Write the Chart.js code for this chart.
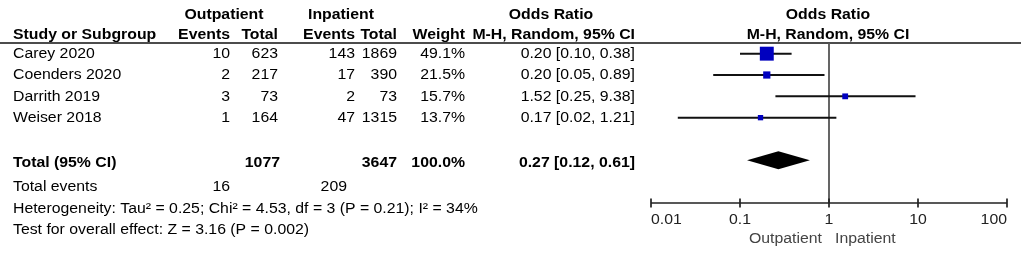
<!DOCTYPE html>
<html>
<head>
<meta charset="utf-8">
<script src="https://cdn.jsdelivr.net/npm/chart.js@4.4.1/dist/chart.umd.min.js"></script>
<style>
  html, body { margin: 0; padding: 0; background: #ffffff; }
  #wrap { width: 1021px; height: 257px; position: relative; }
</style>
</head>
<body>
<div id="wrap"><canvas id="c" width="1021" height="257"></canvas></div>
<script>
// ---- data ----
const studies = ["Carey 2020", "Coenders 2020", "Darrith 2019", "Weiser 2018"];
const outEvents = [10, 2, 3, 1];
const outTotal = [623, 217, 73, 164];
const inEvents = [143, 17, 2, 47];
const inTotal = [1869, 390, 73, 1315];
const weights = [49.1, 21.5, 15.7, 13.7];
const oddsRatio = [0.20, 0.20, 1.52, 0.17];
const ciLow = [0.10, 0.05, 0.25, 0.02];
const ciHigh = [0.38, 0.89, 9.38, 1.21];
const pooledOR = [0.27];
const pooledLow = [0.12];
const pooledHigh = [0.61];
const totalsOut = [1077];
const totalsIn = [3647];
const totalEventsOut = [16];
const totalEventsIn = [209];
const tickValues = [0.01, 0.1, 1, 10, 100];
const tickLabels = ["0.01", "0.1", "1", "10", "100"];
const heterogeneityText = "Heterogeneity: Tau\u00B2 = 0.25; Chi\u00B2 = 4.53, df = 3 (P = 0.21); I\u00B2 = 34%";
const overallText = "Test for overall effect: Z = 3.16 (P = 0.002)";
const favoursLeft = "Outpatient";
const favoursRight = "Inpatient";
const totalRow = 5;

// ---- helpers ----
const SX = 1.13;
const FONT = '"Liberation Sans", Arial, Helvetica, sans-serif';
function txt(ctx, s, x, y, align, bold, color, size) {
  ctx.save();
  ctx.font = (bold ? 'bold ' : '') + (size || 14) + 'px ' + FONT;
  ctx.fillStyle = color || '#000';
  ctx.textBaseline = 'middle';
  ctx.textAlign = 'left';
  const w = ctx.measureText(s).width * SX;
  const left = align === 'left' ? x : (align === 'right' ? x - w : x - w / 2);
  ctx.translate(left, y);
  ctx.scale(SX, 1);
  ctx.fillText(s, 0, 0);
  ctx.restore();
}
const f2 = v => v.toFixed(2);
const orText = (o, l, h) => f2(o) + ' [' + f2(l) + ', ' + f2(h) + ']';

const forestPlugin = {
  id: 'forest',
  beforeDatasetsDraw(chart) {
    const ctx = chart.ctx, xs = chart.scales.x, ca = chart.chartArea;
    ctx.save();
    ctx.strokeStyle = '#111';
    ctx.lineWidth = 1.5;
    ctx.beginPath(); ctx.moveTo(0, ca.top); ctx.lineTo(chart.width, ca.top); ctx.stroke();
    const x1 = xs.getPixelForValue(1);
    ctx.strokeStyle = '#555';
    ctx.lineWidth = 1.8;
    ctx.beginPath(); ctx.moveTo(x1, ca.top); ctx.lineTo(x1, ca.bottom); ctx.stroke();
    ctx.restore();
  },
  afterDatasetsDraw(chart) {
    const ctx = chart.ctx, xs = chart.scales.x, ys = chart.scales.y, ca = chart.chartArea;
    const yT = ys.getPixelForValue(totalRow);
    ctx.save();
    ctx.fillStyle = '#000';
    ctx.beginPath();
    ctx.moveTo(xs.getPixelForValue(pooledLow[0]), yT);
    ctx.lineTo(xs.getPixelForValue(pooledOR[0]), yT - 9);
    ctx.lineTo(xs.getPixelForValue(pooledHigh[0]), yT);
    ctx.lineTo(xs.getPixelForValue(pooledOR[0]), yT + 9);
    ctx.closePath();
    ctx.fill();
    const ay = ca.bottom;
    ctx.strokeStyle = '#222';
    ctx.lineWidth = 1.7;
    ctx.beginPath();
    ctx.moveTo(xs.getPixelForValue(tickValues[0]), ay);
    ctx.lineTo(xs.getPixelForValue(tickValues[tickValues.length - 1]), ay);
    tickValues.forEach(v => {
      const px = xs.getPixelForValue(v);
      ctx.moveTo(px, ay - 4.5); ctx.lineTo(px, ay + 4.5);
    });
    ctx.stroke();
    ctx.restore();
    tickValues.forEach((v, i) => {
      const px = xs.getPixelForValue(v);
      const al = i === 0 ? 'left' : (i === tickValues.length - 1 ? 'right' : 'center');
      txt(ctx, tickLabels[i], px, ay + 17, al, false, '#222');
    });
    const x1 = xs.getPixelForValue(1);
    txt(ctx, favoursLeft, x1 - 7, ay + 36, 'right', false, '#444');
    txt(ctx, favoursRight, x1 + 6, ay + 36, 'left', false, '#444');

    const h1 = 15, h2 = 35;
    txt(ctx, 'Outpatient', 224, h1, 'center', true);
    txt(ctx, 'Inpatient', 341, h1, 'center', true);
    txt(ctx, 'Odds Ratio', 551, h1, 'center', true);
    txt(ctx, 'Odds Ratio', 828, h1, 'center', true);
    txt(ctx, 'Study or Subgroup', 13, h2, 'left', true);
    txt(ctx, 'Events', 230, h2, 'right', true);
    txt(ctx, 'Total', 278, h2, 'right', true);
    txt(ctx, 'Events', 355, h2, 'right', true);
    txt(ctx, 'Total', 397, h2, 'right', true);
    txt(ctx, 'Weight', 465, h2, 'right', true);
    txt(ctx, 'M-H, Random, 95% CI', 635, h2, 'right', true);
    txt(ctx, 'M-H, Random, 95% CI', 828, h2, 'center', true);

    studies.forEach((s, i) => {
      const y = ys.getPixelForValue(i) + 0.5;
      txt(ctx, s, 13, y, 'left');
      txt(ctx, String(outEvents[i]), 230, y, 'right');
      txt(ctx, String(outTotal[i]), 278, y, 'right');
      txt(ctx, String(inEvents[i]), 355, y, 'right');
      txt(ctx, String(inTotal[i]), 397, y, 'right');
      txt(ctx, weights[i].toFixed(1) + '%', 465, y, 'right');
      txt(ctx, orText(oddsRatio[i], ciLow[i], ciHigh[i]), 635, y, 'right');
    });

    const ty = yT + 2.5;
    const wSum = weights.reduce((a, b) => a + b, 0);
    txt(ctx, 'Total (95% CI)', 13, ty, 'left', true);
    txt(ctx, String(totalsOut[0]), 280, ty, 'right', true);
    txt(ctx, String(totalsIn[0]), 397, ty, 'right', true);
    txt(ctx, wSum.toFixed(1) + '%', 465, ty, 'right', true);
    txt(ctx, orText(pooledOR[0], pooledLow[0], pooledHigh[0]), 635, ty, 'right', true);
    txt(ctx, 'Total events', 13, 187, 'left');
    txt(ctx, String(totalEventsOut[0]), 230, 187, 'right');
    txt(ctx, String(totalEventsIn[0]), 347, 187, 'right');
    txt(ctx, heterogeneityText, 13, 209, 'left');
    txt(ctx, overallText, 13, 230, 'left');
  }
};

const ciDatasets = studies.map((s, i) => ({
  type: 'scatter',
  label: s + ' CI',
  data: [{ x: ciLow[i], y: i }, { x: ciHigh[i], y: i }],
  showLine: true,
  borderColor: '#111',
  borderWidth: 2,
  pointRadius: 0,
  order: 2
}));

new Chart(document.getElementById('c'), {
  type: 'scatter',
  data: {
    datasets: [{
      label: 'Odds ratio',
      data: oddsRatio.map((v, i) => ({ x: v, y: i })),
      pointStyle: 'rect',
      backgroundColor: '#0000bf',
      borderColor: '#0000bf',
      borderWidth: 0,
      pointRadius: ctx => (2 + 0.243 * weights[ctx.dataIndex]) / Math.SQRT2,
      order: 0
    }].concat(ciDatasets)
  },
  options: {
    responsive: false,
    animation: false,
    events: [],
    layout: { padding: { left: 651, right: 14, top: 43, bottom: 54 } },
    plugins: { legend: { display: false }, tooltip: { enabled: false } },
    scales: {
      x: { type: 'logarithmic', min: 0.01, max: 100, display: false },
      y: { type: 'linear', min: -0.5, max: 7, reverse: true, display: false }
    }
  },
  plugins: [forestPlugin]
});
</script>
</body>
</html>
